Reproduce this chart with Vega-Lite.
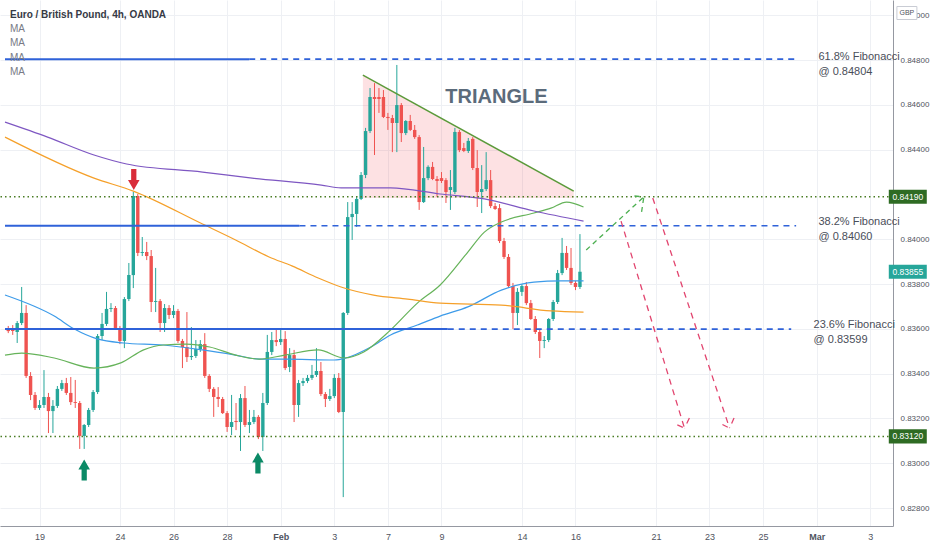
{
  "$schema": "https://vega.github.io/schema/vega-lite/v6.json",
  "width": 893,
  "height": 526,
  "autosize": "none",
  "padding": {"left": 0, "top": 0, "right": 39, "bottom": 24},
  "background": "#ffffff",
  "config": {"view": {"stroke": null}, "font": "Liberation Sans"},
  "datasets": {
    "candles": [
      {"i":0,"o":0.83599,"h":0.83613,"l":0.83581,"c":0.83590},
      {"i":1,"o":0.83604,"h":0.83617,"l":0.83573,"c":0.83590},
      {"i":2,"o":0.83586,"h":0.83635,"l":0.83537,"c":0.83626},
      {"i":3,"o":0.83626,"h":0.83787,"l":0.83617,"c":0.83671},
      {"i":4,"o":0.83671,"h":0.83706,"l":0.83381,"c":0.83390},
      {"i":5,"o":0.83390,"h":0.83407,"l":0.83282,"c":0.83305},
      {"i":6,"o":0.83305,"h":0.83318,"l":0.83238,"c":0.83247},
      {"i":7,"o":0.83247,"h":0.83282,"l":0.83238,"c":0.83260},
      {"i":8,"o":0.83260,"h":0.83416,"l":0.83247,"c":0.83296},
      {"i":9,"o":0.83296,"h":0.83314,"l":0.83135,"c":0.83233},
      {"i":10,"o":0.83233,"h":0.83282,"l":0.83135,"c":0.83256},
      {"i":11,"o":0.83256,"h":0.83345,"l":0.83247,"c":0.83332},
      {"i":12,"o":0.83332,"h":0.83372,"l":0.83323,"c":0.83358},
      {"i":13,"o":0.83358,"h":0.83381,"l":0.83305,"c":0.83314},
      {"i":14,"o":0.83314,"h":0.83385,"l":0.83260,"c":0.83273},
      {"i":15,"o":0.83273,"h":0.83372,"l":0.83247,"c":0.83269},
      {"i":16,"o":0.83269,"h":0.83278,"l":0.83064,"c":0.83122},
      {"i":17,"o":0.83122,"h":0.83175,"l":0.83064,"c":0.83171},
      {"i":18,"o":0.83171,"h":0.83247,"l":0.83162,"c":0.83238},
      {"i":19,"o":0.83238,"h":0.83327,"l":0.83229,"c":0.83318},
      {"i":20,"o":0.83318,"h":0.83577,"l":0.83309,"c":0.83568},
      {"i":21,"o":0.83568,"h":0.83671,"l":0.83550,"c":0.83622},
      {"i":22,"o":0.83622,"h":0.83765,"l":0.83613,"c":0.83689},
      {"i":23,"o":0.83689,"h":0.83715,"l":0.83675,"c":0.83693},
      {"i":24,"o":0.83693,"h":0.83702,"l":0.83595,"c":0.83604},
      {"i":25,"o":0.83604,"h":0.83613,"l":0.83532,"c":0.83546},
      {"i":26,"o":0.83546,"h":0.83742,"l":0.83514,"c":0.83733},
      {"i":27,"o":0.83733,"h":0.83894,"l":0.83724,"c":0.83840},
      {"i":28,"o":0.83840,"h":0.84211,"l":0.83782,"c":0.84193},
      {"i":29,"o":0.84193,"h":0.84202,"l":0.83925,"c":0.83939},
      {"i":30,"o":0.83939,"h":0.84010,"l":0.83925,"c":0.83943},
      {"i":31,"o":0.83943,"h":0.83988,"l":0.83907,"c":0.83925},
      {"i":32,"o":0.83925,"h":0.83952,"l":0.83675,"c":0.83720},
      {"i":33,"o":0.83720,"h":0.83872,"l":0.83675,"c":0.83724},
      {"i":34,"o":0.83724,"h":0.83733,"l":0.83586,"c":0.83626},
      {"i":35,"o":0.83626,"h":0.83711,"l":0.83586,"c":0.83693},
      {"i":36,"o":0.83693,"h":0.83706,"l":0.83644,"c":0.83662},
      {"i":37,"o":0.83662,"h":0.83706,"l":0.83648,"c":0.83680},
      {"i":38,"o":0.83680,"h":0.83689,"l":0.83537,"c":0.83546},
      {"i":39,"o":0.83546,"h":0.83555,"l":0.83425,"c":0.83519},
      {"i":40,"o":0.83519,"h":0.83675,"l":0.83452,"c":0.83474},
      {"i":41,"o":0.83474,"h":0.83608,"l":0.83461,"c":0.83479},
      {"i":42,"o":0.83479,"h":0.83550,"l":0.83470,"c":0.83510},
      {"i":43,"o":0.83510,"h":0.83550,"l":0.83497,"c":0.83532},
      {"i":44,"o":0.83532,"h":0.83581,"l":0.83381,"c":0.83390},
      {"i":45,"o":0.83390,"h":0.83398,"l":0.83318,"c":0.83332},
      {"i":46,"o":0.83332,"h":0.83340,"l":0.83207,"c":0.83296},
      {"i":47,"o":0.83296,"h":0.83340,"l":0.83251,"c":0.83287},
      {"i":48,"o":0.83287,"h":0.83296,"l":0.83220,"c":0.83224},
      {"i":49,"o":0.83224,"h":0.83233,"l":0.83140,"c":0.83162},
      {"i":50,"o":0.83162,"h":0.83305,"l":0.83126,"c":0.83184},
      {"i":51,"o":0.83189,"h":0.83269,"l":0.83148,"c":0.83184},
      {"i":52,"o":0.83184,"h":0.83309,"l":0.83055,"c":0.83291},
      {"i":53,"o":0.83291,"h":0.83345,"l":0.83162,"c":0.83171},
      {"i":54,"o":0.83171,"h":0.83238,"l":0.83135,"c":0.83184},
      {"i":55,"o":0.83184,"h":0.83238,"l":0.83175,"c":0.83207},
      {"i":56,"o":0.83207,"h":0.83215,"l":0.83108,"c":0.83117},
      {"i":57,"o":0.83117,"h":0.83314,"l":0.83055,"c":0.83269},
      {"i":58,"o":0.83269,"h":0.83573,"l":0.83260,"c":0.83497},
      {"i":59,"o":0.83497,"h":0.83586,"l":0.83483,"c":0.83550},
      {"i":60,"o":0.83550,"h":0.83595,"l":0.83523,"c":0.83541},
      {"i":61,"o":0.83541,"h":0.83595,"l":0.83528,"c":0.83555},
      {"i":62,"o":0.83555,"h":0.83590,"l":0.83416,"c":0.83425},
      {"i":63,"o":0.83430,"h":0.83514,"l":0.83407,"c":0.83483},
      {"i":64,"o":0.83483,"h":0.83506,"l":0.83184,"c":0.83260},
      {"i":65,"o":0.83260,"h":0.83372,"l":0.83207,"c":0.83358},
      {"i":66,"o":0.83358,"h":0.83381,"l":0.83345,"c":0.83367},
      {"i":67,"o":0.83367,"h":0.83394,"l":0.83358,"c":0.83381},
      {"i":68,"o":0.83381,"h":0.83439,"l":0.83372,"c":0.83394},
      {"i":69,"o":0.83394,"h":0.83514,"l":0.83385,"c":0.83412},
      {"i":70,"o":0.83412,"h":0.83452,"l":0.83300,"c":0.83309},
      {"i":71,"o":0.83309,"h":0.83318,"l":0.83251,"c":0.83287},
      {"i":72,"o":0.83287,"h":0.83332,"l":0.83278,"c":0.83300},
      {"i":73,"o":0.83300,"h":0.83398,"l":0.83291,"c":0.83381},
      {"i":74,"o":0.83381,"h":0.83403,"l":0.83224,"c":0.83229},
      {"i":75,"o":0.83229,"h":0.83675,"l":0.82849,"c":0.83671},
      {"i":76,"o":0.83671,"h":0.84166,"l":0.83662,"c":0.84099},
      {"i":77,"o":0.84099,"h":0.84166,"l":0.83997,"c":0.84113},
      {"i":78,"o":0.84113,"h":0.84193,"l":0.84055,"c":0.84180},
      {"i":79,"o":0.84180,"h":0.84300,"l":0.84175,"c":0.84287},
      {"i":80,"o":0.84287,"h":0.84497,"l":0.84273,"c":0.84483},
      {"i":81,"o":0.84483,"h":0.84675,"l":0.84474,"c":0.84635},
      {"i":82,"o":0.84635,"h":0.84697,"l":0.84376,"c":0.84626},
      {"i":83,"o":0.84635,"h":0.84675,"l":0.84564,"c":0.84626},
      {"i":84,"o":0.84635,"h":0.84666,"l":0.84541,"c":0.84546},
      {"i":85,"o":0.84546,"h":0.84564,"l":0.84488,"c":0.84541},
      {"i":86,"o":0.84541,"h":0.84555,"l":0.84389,"c":0.84519},
      {"i":87,"o":0.84519,"h":0.84778,"l":0.84389,"c":0.84599},
      {"i":88,"o":0.84599,"h":0.84608,"l":0.84434,"c":0.84474},
      {"i":89,"o":0.84474,"h":0.84532,"l":0.84465,"c":0.84528},
      {"i":90,"o":0.84528,"h":0.84555,"l":0.84483,"c":0.84488},
      {"i":91,"o":0.84488,"h":0.84510,"l":0.84448,"c":0.84456},
      {"i":92,"o":0.84456,"h":0.84465,"l":0.84131,"c":0.84166},
      {"i":93,"o":0.84166,"h":0.84412,"l":0.84162,"c":0.84273},
      {"i":94,"o":0.84273,"h":0.84330,"l":0.84264,"c":0.84323},
      {"i":95,"o":0.84323,"h":0.84345,"l":0.84264,"c":0.84269},
      {"i":96,"o":0.84269,"h":0.84282,"l":0.84189,"c":0.84260},
      {"i":97,"o":0.84273,"h":0.84300,"l":0.84251,"c":0.84260},
      {"i":98,"o":0.84264,"h":0.84273,"l":0.84162,"c":0.84211},
      {"i":99,"o":0.84220,"h":0.84309,"l":0.84131,"c":0.84233},
      {"i":100,"o":0.84211,"h":0.84497,"l":0.84202,"c":0.84479},
      {"i":101,"o":0.84479,"h":0.84488,"l":0.84389,"c":0.84398},
      {"i":102,"o":0.84407,"h":0.84430,"l":0.84389,"c":0.84394},
      {"i":103,"o":0.84394,"h":0.84452,"l":0.84385,"c":0.84439},
      {"i":104,"o":0.84448,"h":0.84456,"l":0.84309,"c":0.84318},
      {"i":105,"o":0.84318,"h":0.84398,"l":0.84144,"c":0.84211},
      {"i":106,"o":0.84211,"h":0.84331,"l":0.84117,"c":0.84224},
      {"i":107,"o":0.84224,"h":0.84389,"l":0.84215,"c":0.84264},
      {"i":108,"o":0.84264,"h":0.84309,"l":0.84139,"c":0.84148},
      {"i":109,"o":0.84148,"h":0.84162,"l":0.84131,"c":0.84135},
      {"i":110,"o":0.84139,"h":0.84157,"l":0.83983,"c":0.83992},
      {"i":111,"o":0.83992,"h":0.84006,"l":0.83912,"c":0.83921},
      {"i":112,"o":0.83921,"h":0.83934,"l":0.83782,"c":0.83791},
      {"i":113,"o":0.83791,"h":0.83805,"l":0.83599,"c":0.83671},
      {"i":114,"o":0.83671,"h":0.83782,"l":0.83617,"c":0.83765},
      {"i":115,"o":0.83765,"h":0.83800,"l":0.83747,"c":0.83791},
      {"i":116,"o":0.83791,"h":0.83809,"l":0.83706,"c":0.83715},
      {"i":117,"o":0.83715,"h":0.83729,"l":0.83640,"c":0.83644},
      {"i":118,"o":0.83644,"h":0.83657,"l":0.83577,"c":0.83586},
      {"i":119,"o":0.83586,"h":0.83599,"l":0.83470,"c":0.83546},
      {"i":120,"o":0.83546,"h":0.83568,"l":0.83514,"c":0.83550},
      {"i":121,"o":0.83550,"h":0.83648,"l":0.83541,"c":0.83644},
      {"i":122,"o":0.83644,"h":0.83729,"l":0.83635,"c":0.83720},
      {"i":123,"o":0.83720,"h":0.83863,"l":0.83711,"c":0.83849},
      {"i":124,"o":0.83849,"h":0.84006,"l":0.83840,"c":0.83939},
      {"i":125,"o":0.83939,"h":0.83970,"l":0.83863,"c":0.83872},
      {"i":126,"o":0.83872,"h":0.83961,"l":0.83796,"c":0.83805},
      {"i":127,"o":0.83805,"h":0.83814,"l":0.83773,"c":0.83787},
      {"i":128,"o":0.83787,"h":0.84023,"l":0.83778,"c":0.83855}
    ],
    "ma": [
      {"s":"a","i":-0.73,"p":0.83751},{"s":"a","i":10.3,"p":0.83657},{"s":"a","i":14.8,"p":0.83599},
      {"s":"a","i":19.9,"p":0.83555},{"s":"a","i":25.8,"p":0.83537},{"s":"a","i":34.7,"p":0.83528},
      {"s":"a","i":43.5,"p":0.83506},{"s":"a","i":50.9,"p":0.83483},{"s":"a","i":56.2,"p":0.83465},
      {"s":"a","i":61.9,"p":0.83465},{"s":"a","i":73.0,"p":0.83461},{"s":"a","i":75.6,"p":0.83470},
      {"s":"a","i":81.2,"p":0.83519},{"s":"a","i":85.6,"p":0.83573},{"s":"a","i":91.6,"p":0.83617},
      {"s":"a","i":96.7,"p":0.83657},{"s":"a","i":102.9,"p":0.83698},{"s":"a","i":110.4,"p":0.83773},
      {"s":"a","i":117.7,"p":0.83809},{"s":"a","i":123.7,"p":0.83814},{"s":"a","i":128.8,"p":0.83814},
      {"s":"b","i":-0.73,"p":0.83483},{"s":"b","i":3.0,"p":0.83492},{"s":"b","i":10.3,"p":0.83470},
      {"s":"b","i":19.2,"p":0.83425},{"s":"b","i":25.2,"p":0.83448},{"s":"b","i":30.3,"p":0.83506},
      {"s":"b","i":34.7,"p":0.83528},{"s":"b","i":39.8,"p":0.83532},{"s":"b","i":45.1,"p":0.83519},
      {"s":"b","i":50.9,"p":0.83483},{"s":"b","i":56.2,"p":0.83465},{"s":"b","i":61.9,"p":0.83483},
      {"s":"b","i":69.4,"p":0.83506},{"s":"b","i":75.2,"p":0.83470},{"s":"b","i":79.6,"p":0.83497},
      {"s":"b","i":85.6,"p":0.83595},{"s":"b","i":91.6,"p":0.83715},{"s":"b","i":96.7,"p":0.83796},
      {"s":"b","i":102.9,"p":0.83943},{"s":"b","i":106.6,"p":0.84032},{"s":"b","i":110.4,"p":0.84077},
      {"s":"b","i":117.7,"p":0.84117},{"s":"b","i":121.5,"p":0.84139},{"s":"b","i":125.0,"p":0.84166},
      {"s":"b","i":128.8,"p":0.84144},
      {"s":"c","i":-0.73,"p":0.84456},{"s":"c","i":19.2,"p":0.84273},{"s":"c","i":28.0,"p":0.84215},
      {"s":"c","i":43.5,"p":0.84068},{"s":"c","i":50.9,"p":0.83997},{"s":"c","i":58.4,"p":0.83921},
      {"s":"c","i":63.5,"p":0.83881},{"s":"c","i":69.4,"p":0.83827},{"s":"c","i":74.5,"p":0.83787},
      {"s":"c","i":81.8,"p":0.83751},{"s":"c","i":89.4,"p":0.83733},{"s":"c","i":96.7,"p":0.83715},
      {"s":"c","i":110.4,"p":0.83706},{"s":"c","i":121.5,"p":0.83680},{"s":"c","i":128.8,"p":0.83675},
      {"s":"d","i":-0.73,"p":0.84523},{"s":"d","i":8.8,"p":0.84456},{"s":"d","i":19.2,"p":0.84376},
      {"s":"d","i":26.5,"p":0.84336},{"s":"d","i":43.5,"p":0.84300},{"s":"d","i":54.6,"p":0.84273},
      {"s":"d","i":70.1,"p":0.84242},{"s":"d","i":74.5,"p":0.84229},{"s":"d","i":85.6,"p":0.84229},
      {"s":"d","i":96.7,"p":0.84202},{"s":"d","i":106.6,"p":0.84180},{"s":"d","i":117.7,"p":0.84126},
      {"s":"d","i":128.8,"p":0.84081}
    ]
  },
  "layer": [
    {
      "data": {"values": [{"i":79.4,"p":0.84733,"p2":0.84184},{"i":126.6,"p":0.84215,"p2":0.84184}]},
      "mark": {"type": "area", "color": "#f23645", "opacity": 0.15},
      "encoding": {
        "x": {"field": "i", "type": "quantitative", "scale": {"domain": [-0.73, 196.97], "nice": false, "zero": false},
          "axis": {"values": [7,25,37,49,61,73,85,97,115,127,145,157,169,181,193],
            "labelExpr": "({'7':'19','25':'24','37':'26','49':'28','61':'Feb','73':'3','85':'7','97':'9','115':'14','127':'16','145':'21','157':'23','169':'25','181':'Mar','193':'3'})[datum.value]",
            "title": null, "grid": true, "gridColor": "#eef0f4", "ticks": false, "domainColor": "#9598a1",
            "labelFontSize": 9, "labelColor": "#50535e", "labelPadding": 6, "labelFont": "Liberation Sans",
            "labelFontWeight": {"condition": {"test": "datum.value == 61 || datum.value == 181", "value": "bold"}, "value": "normal"}}},
        "y": {"field": "p", "type": "quantitative", "scale": {"domain": [0.8272, 0.85068], "nice": false, "zero": false},
          "axis": {"orient": "right", "values": [0.828,0.830,0.832,0.834,0.836,0.838,0.840,0.844,0.846,0.848,0.850],
            "labelExpr": "format(datum.value, '.5f')", "title": null, "grid": true, "gridColor": "#eef0f4",
            "ticks": false, "domainColor": "#9598a1", "labelFontSize": 8, "labelColor": "#50535e",
            "labelPadding": 7, "labelFont": "Liberation Sans"}},
        "y2": {"field": "p2"}
      }
    },
    {
      "data": {"name": "candles"},
      "mark": {"type": "rule", "strokeWidth": 1},
      "encoding": {
        "x": {"field": "i", "type": "quantitative", "title": null, "scale": {"domain": [-0.73, 196.97], "nice": false, "zero": false}},
        "y": {"field": "l", "type": "quantitative", "title": null, "scale": {"domain": [0.8272, 0.85068], "nice": false, "zero": false}},
        "y2": {"field": "h"},
        "color": {"condition": {"test": "datum.c >= datum.o", "value": "#26a69a"}, "value": "#ef5350"}
      }
    },
    {
      "data": {"name": "candles"},
      "mark": {"type": "bar", "size": 3.4},
      "encoding": {
        "x": {"field": "i", "type": "quantitative", "title": null, "scale": {"domain": [-0.73, 196.97], "nice": false, "zero": false}},
        "y": {"field": "o", "type": "quantitative", "title": null, "scale": {"domain": [0.8272, 0.85068], "nice": false, "zero": false}},
        "y2": {"field": "c"},
        "color": {"condition": {"test": "datum.c >= datum.o", "value": "#26a69a"}, "value": "#ef5350"}
      }
    },
    {
      "data": {"name": "ma"},
      "mark": {"type": "line", "strokeWidth": 1.2, "interpolate": "monotone"},
      "encoding": {
        "x": {"field": "i", "type": "quantitative", "title": null, "scale": {"domain": [-0.73, 196.97], "nice": false, "zero": false}},
        "y": {"field": "p", "type": "quantitative", "title": null, "scale": {"domain": [0.8272, 0.85068], "nice": false, "zero": false}},
        "color": {"field": "s", "type": "nominal", "scale": {"domain": ["a","b","c","d"], "range": ["#3d9be9","#66b35a","#f5a02a","#7e57c2"]}, "legend": null}
      }
    },
    {
      "data": {"values": [{"i":-0.73,"i2":53.95,"p":0.84804},{"i":-0.73,"i2":65.2,"p":0.8406},{"i":-0.73,"i2":98.4,"p":0.83599}]},
      "mark": {"type": "rule", "color": "#2f62d9", "strokeWidth": 2},
      "encoding": {
        "x": {"field": "i", "type": "quantitative", "title": null, "scale": {"domain": [-0.73, 196.97], "nice": false, "zero": false}},
        "x2": {"field": "i2"},
        "y": {"field": "p", "type": "quantitative", "title": null, "scale": {"domain": [0.8272, 0.85068], "nice": false, "zero": false}}
      }
    },
    {
      "data": {"values": [{"i":53.95,"i2":176.4,"p":0.84804},{"i":65.2,"i2":176.4,"p":0.8406},{"i":98.4,"i2":175.3,"p":0.83599}]},
      "mark": {"type": "rule", "color": "#2f62d9", "strokeWidth": 1.6, "strokeDash": [6, 5]},
      "encoding": {
        "x": {"field": "i", "type": "quantitative", "title": null, "scale": {"domain": [-0.73, 196.97], "nice": false, "zero": false}},
        "x2": {"field": "i2"},
        "y": {"field": "p", "type": "quantitative", "title": null, "scale": {"domain": [0.8272, 0.85068], "nice": false, "zero": false}}
      }
    },
    {
      "data": {"values": [{"p":0.8419},{"p":0.8312}]},
      "mark": {"type": "rule", "color": "#4a7d24", "strokeWidth": 1.5, "strokeDash": [1.5, 3]},
      "encoding": {
        "y": {"field": "p", "type": "quantitative", "title": null, "scale": {"domain": [0.8272, 0.85068], "nice": false, "zero": false}}
      }
    },
    {
      "data": {"values": [{"i":79.4,"p":0.84733,"i2":126.6,"p2":0.84215}]},
      "mark": {"type": "rule", "color": "#5b9a3a", "strokeWidth": 1.5},
      "encoding": {
        "x": {"field": "i", "type": "quantitative", "title": null, "scale": {"domain": [-0.73, 196.97], "nice": false, "zero": false}},
        "x2": {"field": "i2"},
        "y": {"field": "p", "type": "quantitative", "title": null, "scale": {"domain": [0.8272, 0.85068], "nice": false, "zero": false}},
        "y2": {"field": "p2"}
      }
    },
    {
      "data": {"values": [
        {"i":129.4,"p":0.83952,"i2":142.3,"p2":0.84189},
        {"i":140.2,"p":0.84193,"i2":142.3,"p2":0.84189},
        {"i":141.8,"p":0.84122,"i2":142.3,"p2":0.84189}
      ]},
      "mark": {"type": "rule", "color": "#4caf50", "strokeWidth": 1.3, "strokeDash": [5, 4]},
      "encoding": {
        "x": {"field": "i", "type": "quantitative", "title": null, "scale": {"domain": [-0.73, 196.97], "nice": false, "zero": false}},
        "x2": {"field": "i2"},
        "y": {"field": "p", "type": "quantitative", "title": null, "scale": {"domain": [0.8272, 0.85068], "nice": false, "zero": false}},
        "y2": {"field": "p2"}
      }
    },
    {
      "data": {"values": [
        {"i":137.2,"p":0.84081,"i2":151.4,"p2":0.83157},
        {"i":149.8,"p":0.83171,"i2":151.4,"p2":0.83157},
        {"i":152.5,"p":0.83202,"i2":151.4,"p2":0.83157},
        {"i":144.3,"p":0.84184,"i2":161.5,"p2":0.83157},
        {"i":159.9,"p":0.83173,"i2":161.5,"p2":0.83157},
        {"i":162.5,"p":0.83202,"i2":161.5,"p2":0.83157}
      ]},
      "mark": {"type": "rule", "color": "#e2456f", "strokeWidth": 1.3, "strokeDash": [6, 5]},
      "encoding": {
        "x": {"field": "i", "type": "quantitative", "title": null, "scale": {"domain": [-0.73, 196.97], "nice": false, "zero": false}},
        "x2": {"field": "i2"},
        "y": {"field": "p", "type": "quantitative", "title": null, "scale": {"domain": [0.8272, 0.85068], "nice": false, "zero": false}},
        "y2": {"field": "p2"}
      }
    },
    {
      "data": {"values": [{"i":28.1,"p":0.84267}]},
      "mark": {"type": "point", "filled": true, "color": "#d92d3a", "opacity": 1, "size": 441,
        "shape": "M-0.25,-1 L0.25,-1 L0.25,0.05 L0.55,0.05 L0,1 L-0.55,0.05 L-0.25,0.05 Z"},
      "encoding": {
        "x": {"field": "i", "type": "quantitative", "title": null, "scale": {"domain": [-0.73, 196.97], "nice": false, "zero": false}},
        "y": {"field": "p", "type": "quantitative", "title": null, "scale": {"domain": [0.8272, 0.85068], "nice": false, "zero": false}}
      }
    },
    {
      "data": {"values": [{"i":17.0,"p":0.82970},{"i":55.9,"p":0.83001}]},
      "mark": {"type": "point", "filled": true, "color": "#0b8a66", "opacity": 1, "size": 441,
        "shape": "M-0.25,1 L0.25,1 L0.25,-0.05 L0.55,-0.05 L0,-1 L-0.55,-0.05 L-0.25,-0.05 Z"},
      "encoding": {
        "x": {"field": "i", "type": "quantitative", "title": null, "scale": {"domain": [-0.73, 196.97], "nice": false, "zero": false}},
        "y": {"field": "p", "type": "quantitative", "title": null, "scale": {"domain": [0.8272, 0.85068], "nice": false, "zero": false}}
      }
    },
    {
      "data": {"values": [{"i":109.3,"p":0.84635,"t":"TRIANGLE"}]},
      "mark": {"type": "text", "fontSize": 20, "fontWeight": "bold", "color": "#5b6b7b", "align": "center", "baseline": "middle"},
      "encoding": {
        "x": {"field": "i", "type": "quantitative", "title": null, "scale": {"domain": [-0.73, 196.97], "nice": false, "zero": false}},
        "y": {"field": "p", "type": "quantitative", "title": null, "scale": {"domain": [0.8272, 0.85068], "nice": false, "zero": false}},
        "text": {"field": "t"}
      }
    },
    {
      "data": {"values": [
        {"i":181.4,"p":0.84840,"t":"61.8% Fibonacci\n@ 0.84804"},
        {"i":181.4,"p":0.84104,"t":"38.2% Fibonacci\n@ 0.84060"},
        {"i":180.3,"p":0.83644,"t":"23.6% Fibonacci\n@ 0.83599"}
      ]},
      "mark": {"type": "text", "fontSize": 11, "color": "#4a4e59", "align": "left", "baseline": "top", "lineBreak": "\n", "lineHeight": 15},
      "encoding": {
        "x": {"field": "i", "type": "quantitative", "title": null, "scale": {"domain": [-0.73, 196.97], "nice": false, "zero": false}},
        "y": {"field": "p", "type": "quantitative", "title": null, "scale": {"domain": [0.8272, 0.85068], "nice": false, "zero": false}},
        "text": {"field": "t"}
      }
    },
    {
      "data": {"values": [{"i":0.38,"p":0.85001,"t":"Euro / British Pound, 4h, OANDA"}]},
      "mark": {"type": "text", "fontSize": 10, "fontWeight": "bold", "color": "#363a45", "align": "left", "baseline": "middle"},
      "encoding": {
        "x": {"field": "i", "type": "quantitative", "title": null, "scale": {"domain": [-0.73, 196.97], "nice": false, "zero": false}},
        "y": {"field": "p", "type": "quantitative", "title": null, "scale": {"domain": [0.8272, 0.85068], "nice": false, "zero": false}},
        "text": {"field": "t"}
      }
    },
    {
      "data": {"values": [{"i":0.38,"p":0.84939,"t":"MA"},{"i":0.38,"p":0.84874,"t":"MA"},{"i":0.38,"p":0.84809,"t":"MA"},{"i":0.38,"p":0.84745,"t":"MA"}]},
      "mark": {"type": "text", "fontSize": 10, "color": "#787b86", "align": "left", "baseline": "middle"},
      "encoding": {
        "x": {"field": "i", "type": "quantitative", "title": null, "scale": {"domain": [-0.73, 196.97], "nice": false, "zero": false}},
        "y": {"field": "p", "type": "quantitative", "title": null, "scale": {"domain": [0.8272, 0.85068], "nice": false, "zero": false}},
        "text": {"field": "t"}
      }
    },
    {
      "data": {"values": [{"i":201.4,"p":0.8419},{"i":201.4,"p":0.8312}]},
      "mark": {"type": "point", "filled": true, "color": "#2e6b23", "opacity": 1, "size": 1444,
        "shape": "M-1,-0.37 L1,-0.37 L1,0.37 L-1,0.37 Z"},
      "encoding": {
        "x": {"field": "i", "type": "quantitative", "title": null, "scale": {"domain": [-0.73, 196.97], "nice": false, "zero": false}},
        "y": {"field": "p", "type": "quantitative", "title": null, "scale": {"domain": [0.8272, 0.85068], "nice": false, "zero": false}}
      }
    },
    {
      "data": {"values": [{"i":201.4,"p":0.83855}]},
      "mark": {"type": "point", "filled": true, "color": "#26a69a", "opacity": 1, "size": 1444,
        "shape": "M-1,-0.37 L1,-0.37 L1,0.37 L-1,0.37 Z"},
      "encoding": {
        "x": {"field": "i", "type": "quantitative", "title": null, "scale": {"domain": [-0.73, 196.97], "nice": false, "zero": false}},
        "y": {"field": "p", "type": "quantitative", "title": null, "scale": {"domain": [0.8272, 0.85068], "nice": false, "zero": false}}
      }
    },
    {
      "data": {"values": [{"i":201.4,"p":0.8419,"t":"0.84190"},{"i":201.4,"p":0.83855,"t":"0.83855"},{"i":201.4,"p":0.8312,"t":"0.83120"}]},
      "mark": {"type": "text", "fontSize": 8.5, "color": "#ffffff", "align": "center", "baseline": "middle"},
      "encoding": {
        "x": {"field": "i", "type": "quantitative", "title": null, "scale": {"domain": [-0.73, 196.97], "nice": false, "zero": false}},
        "y": {"field": "p", "type": "quantitative", "title": null, "scale": {"domain": [0.8272, 0.85068], "nice": false, "zero": false}},
        "text": {"field": "t"}
      }
    },
    {
      "data": {"values": [{"i":201.2,"p":0.8501}]},
      "mark": {"type": "point", "filled": true, "color": "#ffffff", "stroke": "#c9ccd4", "strokeWidth": 1, "opacity": 1, "size": 400,
        "shape": "M-1,-0.65 L1,-0.65 L1,0.65 L-1,0.65 Z"},
      "encoding": {
        "x": {"field": "i", "type": "quantitative", "title": null, "scale": {"domain": [-0.73, 196.97], "nice": false, "zero": false}},
        "y": {"field": "p", "type": "quantitative", "title": null, "scale": {"domain": [0.8272, 0.85068], "nice": false, "zero": false}}
      }
    },
    {
      "data": {"values": [{"i":201.2,"p":0.8501,"t":"GBP"}]},
      "mark": {"type": "text", "fontSize": 7, "color": "#50535e", "align": "center", "baseline": "middle"},
      "encoding": {
        "x": {"field": "i", "type": "quantitative", "title": null, "scale": {"domain": [-0.73, 196.97], "nice": false, "zero": false}},
        "y": {"field": "p", "type": "quantitative", "title": null, "scale": {"domain": [0.8272, 0.85068], "nice": false, "zero": false}},
        "text": {"field": "t"}
      }
    }
  ]
}
